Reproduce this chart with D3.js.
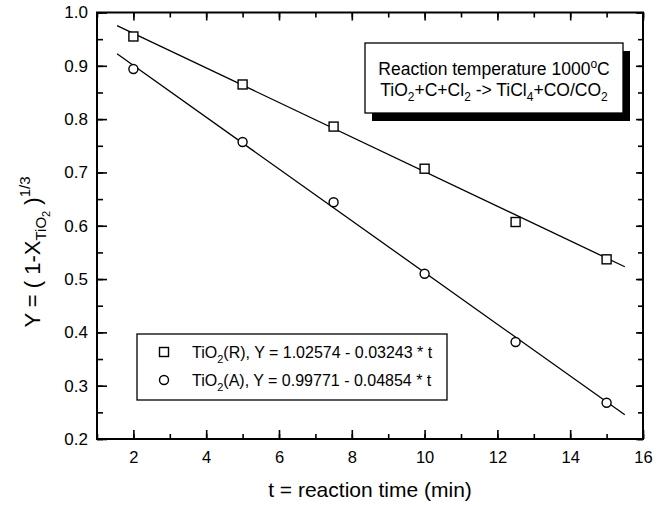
<!DOCTYPE html>
<html><head><meta charset="utf-8">
<script src="https://cdn.jsdelivr.net/npm/d3@7"></script>
<style>
body{margin:0;background:#fff;}
svg{display:block;font-family:"Liberation Sans",Arial,Helvetica,sans-serif;}
</style></head>
<body>
<svg id="c" width="662" height="506"></svg>
<script>
const times = [2, 5, 7.5, 10, 12.5, 15];
const rutileY = [0.955, 0.865, 0.786, 0.707, 0.607, 0.537];
const anataseY = [0.894, 0.757, 0.644, 0.510, 0.382, 0.268];
const fitR = [1.02574, -0.03243];
const fitA = [0.99771, -0.04854];
const fitRange = [1.55, 15.5];
const xTicks = [2, 4, 6, 8, 10, 12, 14, 16];
const yTicks = [0.2, 0.3, 0.4, 0.5, 0.6, 0.7, 0.8, 0.9, 1.0];
const legendLabels = ["R", "A"];
const legendEq = ["Y = 1.02574 - 0.03243 * t", "Y = 0.99771 - 0.04854 * t"];

const svg = d3.select("#c");
const L = 97, R = 643, T = 12.5, B = 439;
const x = d3.scaleLinear().domain([1, 16]).range([L, R]);
const y = d3.scaleLinear().domain([0.2, 1.0]).range([B, T]);

const g = svg.append("g");
g.append("rect").attr("x", L).attr("y", T).attr("width", R - L).attr("height", B - T)
  .attr("fill", "none").attr("stroke", "#000").attr("stroke-width", 2);

const xMinor = d3.range(1, 17, 1);
const yMinor = d3.range(0.2, 1.0001, 0.05);
function axisTicks(axisGen, transform, values, size) {
  const a = g.append("g").attr("transform", transform)
    .call(axisGen.tickValues(values).tickSize(size).tickFormat(""));
  a.select(".domain").remove();
  a.selectAll("line").attr("stroke", "#000").attr("stroke-width", 1.6);
  return a;
}
axisTicks(d3.axisTop(x), `translate(0,${B})`, xMinor, 5);
axisTicks(d3.axisTop(x), `translate(0,${B})`, xTicks, 9);
axisTicks(d3.axisBottom(x), `translate(0,${T})`, xMinor, 5);
axisTicks(d3.axisBottom(x), `translate(0,${T})`, xTicks, 8);
axisTicks(d3.axisRight(y), `translate(${L},0)`, yMinor, 6);
axisTicks(d3.axisRight(y), `translate(${L},0)`, yTicks, 10);
axisTicks(d3.axisLeft(y), `translate(${R},0)`, yMinor, 5);
axisTicks(d3.axisLeft(y), `translate(${R},0)`, yTicks, 7);

const xl = g.append("g").attr("transform", `translate(0,${B})`)
  .call(d3.axisBottom(x).tickValues(xTicks).tickSize(0).tickPadding(12).tickFormat(d3.format("d")));
xl.select(".domain").remove();
xl.selectAll("text").attr("font-size", 16.5).attr("font-family", "Liberation Sans, Arial, sans-serif").attr("fill", "#000");
const yl = g.append("g").attr("transform", `translate(${L},0)`)
  .call(d3.axisLeft(y).tickValues(yTicks).tickSize(0).tickPadding(9).tickFormat(d3.format(".1f")));
yl.select(".domain").remove();
yl.selectAll("text").attr("font-size", 17).attr("font-family", "Liberation Sans, Arial, sans-serif").attr("fill", "#000");

[fitR, fitA].forEach(f => {
  g.append("line")
    .attr("x1", x(fitRange[0])).attr("y1", y(f[0] + f[1] * fitRange[0]))
    .attr("x2", x(fitRange[1])).attr("y2", y(f[0] + f[1] * fitRange[1]))
    .attr("stroke", "#000").attr("stroke-width", 1.3);
});

const sq = 9;
g.selectAll(".sq").data(times.map((t, i) => [t, rutileY[i]])).enter().append("rect")
  .attr("x", d => x(d[0]) - sq / 2).attr("y", d => y(d[1]) - sq / 2)
  .attr("width", sq).attr("height", sq)
  .attr("fill", "#fff").attr("stroke", "#000").attr("stroke-width", 1.4);
g.selectAll(".ci").data(times.map((t, i) => [t, anataseY[i]])).enter().append("circle")
  .attr("cx", d => x(d[0])).attr("cy", d => y(d[1])).attr("r", 4.5)
  .attr("fill", "#fff").attr("stroke", "#000").attr("stroke-width", 1.4);

const bx = 365, by = 43, bw = 258, bh = 70;
g.append("rect").attr("x", bx + 7).attr("y", by + 8).attr("width", bw).attr("height", bh).attr("fill", "#000");
g.append("rect").attr("x", bx).attr("y", by).attr("width", bw).attr("height", bh)
  .attr("fill", "#fff").attr("stroke", "#000").attr("stroke-width", 1.3);
const t1 = g.append("text").attr("x", bx + bw / 2).attr("y", 75).attr("text-anchor", "middle").attr("font-size", 17.5);
t1.append("tspan").text("Reaction temperature 1000");
t1.append("tspan").attr("dy", -7).attr("font-size", 12).text("o");
t1.append("tspan").attr("dy", 7).text("C");
const t2 = g.append("text").attr("x", bx + bw / 2).attr("y", 96).attr("text-anchor", "middle").attr("font-size", 17.5);
t2.append("tspan").text("TiO");
t2.append("tspan").attr("dy", 5).attr("font-size", 12).text("2");
t2.append("tspan").attr("dy", -5).text("+C+Cl");
t2.append("tspan").attr("dy", 5).attr("font-size", 12).text("2");
t2.append("tspan").attr("dy", -5).text(" -> TiCl");
t2.append("tspan").attr("dy", 5).attr("font-size", 12).text("4");
t2.append("tspan").attr("dy", -5).text("+CO/CO");
t2.append("tspan").attr("dy", 5).attr("font-size", 12).text("2");

g.append("rect").attr("x", 137).attr("y", 334).attr("width", 310).attr("height", 66)
  .attr("fill", "#fff").attr("stroke", "#000").attr("stroke-width", 1.3);
const rowsY = [352, 380];
g.append("rect").attr("x", 164 - 4.5).attr("y", rowsY[0] - 4.5).attr("width", 9).attr("height", 9)
  .attr("fill", "#fff").attr("stroke", "#000").attr("stroke-width", 1.4);
g.append("circle").attr("cx", 164).attr("cy", rowsY[1]).attr("r", 4.5)
  .attr("fill", "#fff").attr("stroke", "#000").attr("stroke-width", 1.4);
legendLabels.forEach((lab, i) => {
  const t = g.append("text").attr("x", 192).attr("y", rowsY[i] + 6).attr("font-size", 16);
  t.append("tspan").text("TiO");
  t.append("tspan").attr("dy", 5).attr("font-size", 11).text("2");
  t.append("tspan").attr("dy", -5).text(`(${lab}), ${legendEq[i]}`);
});

svg.append("text").attr("x", (L + R) / 2).attr("y", 497).attr("text-anchor", "middle")
  .attr("font-size", 21).text("t = reaction time (min)");
const yt = svg.append("text").attr("transform", `translate(40,252) rotate(-90)`).attr("text-anchor", "middle")
  .attr("font-size", 22);
yt.append("tspan").text("Y = ( 1-X");
yt.append("tspan").attr("dy", 6).attr("font-size", 15).text("TiO");
yt.append("tspan").attr("dy", 4).attr("font-size", 11).text("2");
yt.append("tspan").attr("dy", -10).text(" )");
yt.append("tspan").attr("dy", -10).attr("font-size", 15).text("1/3");
</script>
</body></html>
